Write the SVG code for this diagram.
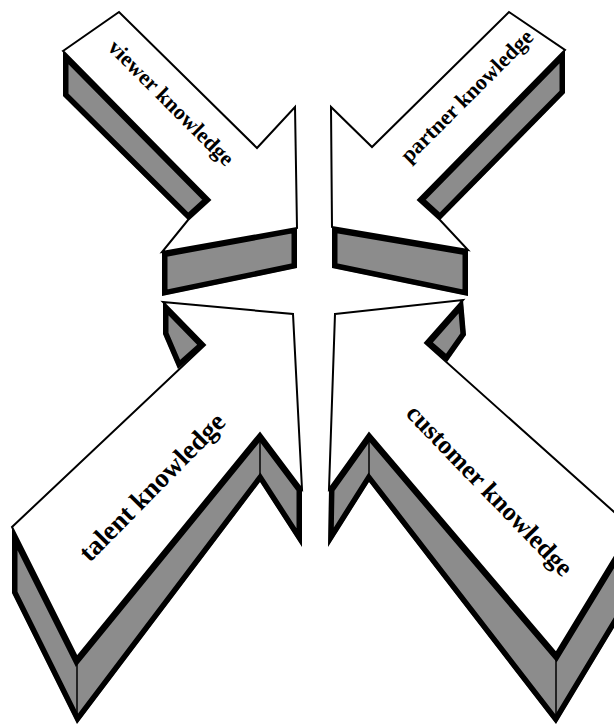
<svg xmlns="http://www.w3.org/2000/svg" xmlns:xlink="http://www.w3.org/1999/xlink" width="614" height="727" viewBox="0 0 614 727">
<style>
.face{fill:#fff;stroke:#000;stroke-width:2;stroke-linejoin:miter}
.side{fill:#8c8c8c;stroke:#000;stroke-width:11;stroke-linejoin:miter}
.thin{fill:none;stroke:#000;stroke-width:1.5}
.lbl{font-family:"Liberation Serif","Times New Roman",serif;font-weight:bold;fill:#000;text-anchor:middle}
</style>
<defs>
<polygon id="vS" points="63,51 210,200 188,220 63,96"/>
<polygon id="vH" points="162,252 297,227 297,268 162,296"/>
<polygon id="pS" points="565,50 565,93 440,220 418,200"/>
<polygon id="pH" points="332,227 468,250 468,296 332,268"/>
<polygon id="tB" points="12,527 77,657 260,433 302,489 302,547 260,482 77,724 12,593"/>
<polygon id="tN" points="163,302 205,345 178,369 163,334"/>
<polygon id="cB" points="632,528 556,653 369,433 329,489 328,547 369,482 556,724 632,598"/>
<polygon id="cN" points="463,300 466,335 447,362 425,343"/>
<clipPath id="cvS"><use xlink:href="#vS"/></clipPath>
<clipPath id="cvH"><use xlink:href="#vH"/></clipPath>
<clipPath id="cpS"><use xlink:href="#pS"/></clipPath>
<clipPath id="cpH"><use xlink:href="#pH"/></clipPath>
<clipPath id="ctB"><use xlink:href="#tB"/></clipPath>
<clipPath id="ctN"><use xlink:href="#tN"/></clipPath>
<clipPath id="ccB"><use xlink:href="#cB"/></clipPath>
<clipPath id="ccN"><use xlink:href="#cN"/></clipPath>
</defs>
<rect width="614" height="727" fill="#fff"/>
<g id="viewer">
<use xlink:href="#vS" class="side" clip-path="url(#cvS)"/>
<use xlink:href="#vH" class="side" clip-path="url(#cvH)"/>
<polygon class="face" points="63,51 119,12 257,148 295,107 297,228 162,252 188,220 210,200"/>
<text class="lbl" font-size="22" transform="translate(171,103) rotate(45)" y="7">viewer knowledge</text>
</g>
<g id="partner">
<use xlink:href="#pS" class="side" clip-path="url(#cpS)"/>
<use xlink:href="#pH" class="side" clip-path="url(#cpH)"/>
<polygon class="face" points="509,12 565,50 418,200 440,220 468,250 332,227 331,107 372,147"/>
<text class="lbl" font-size="22" transform="translate(467,96) rotate(-45)" y="7">partner knowledge</text>
</g>
<g id="talent">
<use xlink:href="#tB" class="side" clip-path="url(#ctB)"/>
<use xlink:href="#tN" class="side" clip-path="url(#ctN)"/>
<line class="thin" x1="77" y1="657" x2="77" y2="722"/>
<line class="thin" x1="260" y1="433" x2="260" y2="482"/>
<polygon class="face" points="163,302 293,314 302,489 260,433 77,657 12,527 205,345"/>
<text class="lbl" font-size="27" transform="translate(152,487) rotate(-45.5)" y="9">talent knowledge</text>
</g>
<g id="customer">
<use xlink:href="#cB" class="side" clip-path="url(#ccB)"/>
<use xlink:href="#cN" class="side" clip-path="url(#ccN)"/>
<line class="thin" x1="556" y1="653" x2="556" y2="722"/>
<line class="thin" x1="369" y1="433" x2="369" y2="482"/>
<polygon class="face" points="335,314 463,300 425,343 632,528 556,653 369,433 329,489"/>
<text class="lbl" font-size="26" transform="translate(490,490) rotate(46)" y="9">customer knowledge</text>
</g>
<g id="connectors"/>
</svg>
